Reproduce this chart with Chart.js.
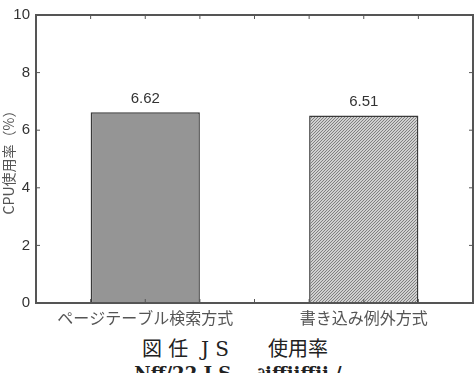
<!DOCTYPE html>
<html>
<head>
<meta charset="utf-8">
<script src="https://cdn.jsdelivr.net/npm/chart.js@4"></script>
<style>
  body { margin: 0; background: #fff; width: 476px; height: 373px; overflow: hidden; }
  #wrap { position: relative; width: 476px; height: 330px; }
  .caption { position: absolute; left: 0; width: 476px; text-align: center; font-family: "DejaVu Serif", "Noto Sans CJK JP", serif; color: #222; white-space: pre; }
  #cap1 { top: 333px; font-size: 20px; left: -3px; }
  #cap2 { top: 359px; font-size: 18px; font-weight: bold; }
</style>
</head>
<body>
<div id="wrap"><canvas id="chart" width="476" height="330"></canvas></div>
<div class="caption" id="cap1">図 任  J S　   使用率</div>
<div class="caption" id="cap2">Nff/22 J S　 ∂iffiiffii /</div>
<script>
const categories = ["ページテーブル検索方式", "書き込み例外方式"];
const values = [6.62, 6.51];
const yTicks = [0, 2, 4, 6, 8, 10];
const xMinorTicks = [-0.25, 0, 0.25, 0.5, 0.75, 1, 1.25];

function hatch() {
  const c = document.createElement("canvas");
  c.width = 3; c.height = 3;
  const g = c.getContext("2d");
  g.fillStyle = "#d0d0d0";
  g.fillRect(0, 0, 3, 3);
  g.strokeStyle = "#808080";
  g.lineWidth = 1;
  g.beginPath();
  g.moveTo(0, 3); g.lineTo(3, 0);
  g.moveTo(-1, 1); g.lineTo(1, -1);
  g.moveTo(2, 4); g.lineTo(4, 2);
  g.stroke();
  return g.createPattern(c, "repeat");
}

const frame = {
  id: "frame",
  afterDraw(chart) {
    const { ctx, chartArea: a, scales } = chart;
    ctx.save();
    ctx.strokeStyle = "#555";
    ctx.lineWidth = 2;
    ctx.strokeRect(a.left, a.top, a.right - a.left, a.bottom - a.top);
    ctx.lineWidth = 1;
    ctx.beginPath();
    yTicks.forEach((v) => {
      const y = scales.y.getPixelForValue(v);
      ctx.moveTo(a.left, y); ctx.lineTo(a.left + 4, y);
      ctx.moveTo(a.right, y); ctx.lineTo(a.right - 4, y);
    });
    xMinorTicks.forEach((v) => {
      const x = scales.x.getPixelForValue(v);
      ctx.moveTo(x, a.top); ctx.lineTo(x, a.top + 4);
      ctx.moveTo(x, a.bottom); ctx.lineTo(x, a.bottom - 4);
    });
    ctx.stroke();
    // value labels
    ctx.fillStyle = "#333";
    ctx.font = "15px 'Liberation Sans', Arial, sans-serif";
    ctx.textAlign = "center";
    ctx.textBaseline = "bottom";
    chart.getDatasetMeta(0).data.forEach((bar, i) => {
      ctx.fillText(values[i].toFixed(2), bar.x, bar.y - 6);
    });
    ctx.restore();
  }
};

new Chart(document.getElementById("chart"), {
  type: "bar",
  data: {
    labels: categories,
    datasets: [{
      data: values,
      backgroundColor: ["#959595", hatch()],
      borderColor: "#3a3a3a",
      borderWidth: 1.5,
      barPercentage: 0.5,
      categoryPercentage: 1,
    }],
  },
  options: {
    responsive: false,
    animation: false,
    devicePixelRatio: 1,
    layout: { padding: { top: 10, right: 3, left: 0, bottom: 0 } },
    plugins: { legend: { display: false }, tooltip: { enabled: false } },
    scales: {
      x: {
        afterFit: (s) => { s.height = 27; },
        grid: { display: false, drawTicks: false },
        border: { display: false },
        ticks: { color: "#555", padding: 5, font: { size: 16, family: "'Noto Sans CJK JP', sans-serif" } },
      },
      y: {
        min: 0, max: 10,
        afterFit: (s) => { s.width = 36; },
        afterBuildTicks: (s) => { s.ticks = yTicks.map((v) => ({ value: v })); },
        grid: { display: false, drawTicks: false },
        border: { display: false },
        ticks: { color: "#333", padding: 6, font: { size: 15, family: "'Liberation Sans', Arial, sans-serif" } },
        title: { display: true, text: "CPU使用率（%）", color: "#555", padding: 0, font: { size: 14, family: "'Noto Sans CJK JP', sans-serif" } },
      },
    },
  },
  plugins: [frame],
});
</script>
</body>
</html>
